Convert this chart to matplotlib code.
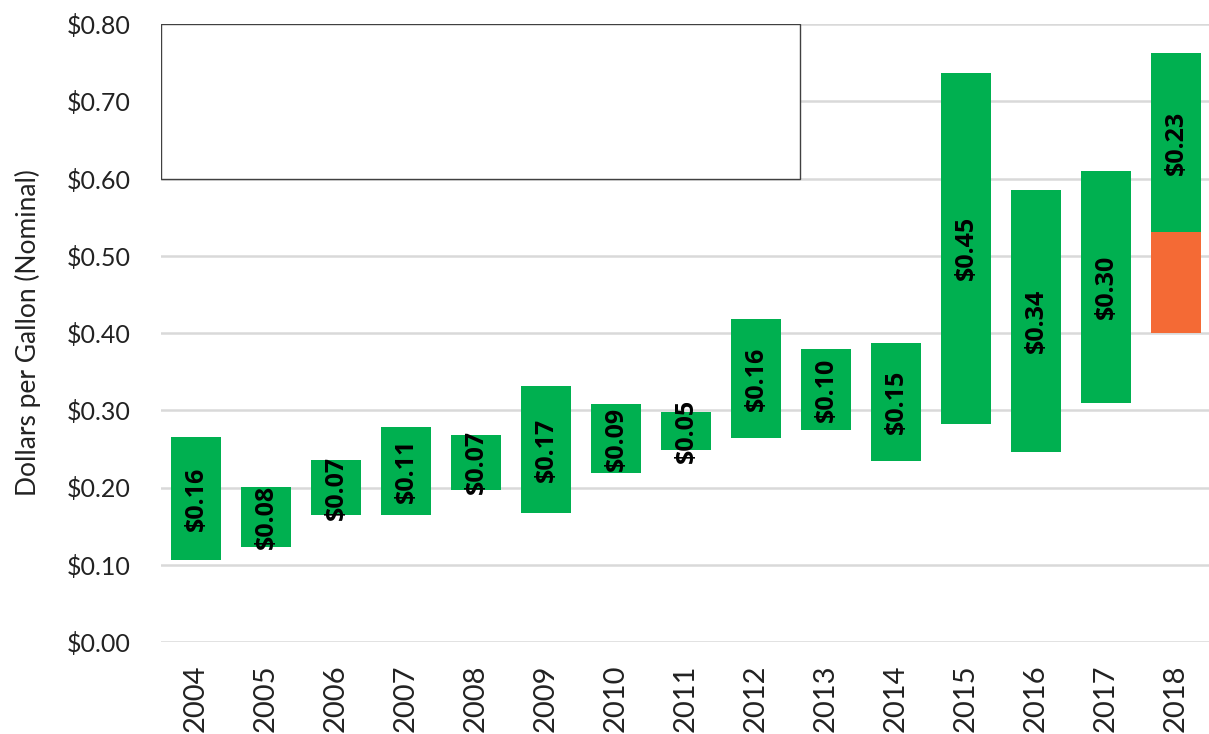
import matplotlib
matplotlib.use("Agg")
import matplotlib.pyplot as plt
from matplotlib.patches import Rectangle

# data
years = ["2004", "2005", "2006", "2007", "2008", "2009", "2010", "2011",
         "2012", "2013", "2014", "2015", "2016", "2017", "2018"]
green_low = [0.106, 0.123, 0.164, 0.164, 0.197, 0.167, 0.219, 0.249,
             0.264, 0.274, 0.234, 0.282, 0.246, 0.309, 0.531]
green_high = [0.265, 0.201, 0.236, 0.278, 0.268, 0.331, 0.308, 0.298,
              0.418, 0.379, 0.387, 0.737, 0.585, 0.610, 0.762]
labels = ["$0.16", "$0.08", "$0.07", "$0.11", "$0.07", "$0.17", "$0.09", "$0.05",
          "$0.16", "$0.10", "$0.15", "$0.45", "$0.34", "$0.30", "$0.23"]
orange_low = [0.400]
orange_high = [0.531]
orange_years = ["2018"]

yticks = [0.0, 0.1, 0.2, 0.3, 0.4, 0.5, 0.6, 0.7, 0.8]

GREEN = "#00B050"
ORANGE = "#F46A35"

plt.rcParams["font.family"] = ["Lato", "DejaVu Sans"]

fig = plt.figure(figsize=(12.09, 7.34), dpi=100)
ax = fig.add_axes([161 / 1209, 92 / 734, 1050 / 1209, 618 / 734])

x = list(range(len(years)))
heights = [h - l for l, h in zip(green_low, green_high)]
ax.bar(x, heights, bottom=green_low, width=0.72, color=GREEN, zorder=3)

ox = [years.index(y) for y in orange_years]
oh = [h - l for l, h in zip(orange_low, orange_high)]
ax.bar(ox, oh, bottom=orange_low, width=0.72, color=ORANGE, zorder=3)

for i in x:
    mid = (green_low[i] + green_high[i]) / 2
    ax.text(i, mid, labels[i], rotation=90, ha="center", va="center",
            fontsize=18, fontweight="bold", color="black", zorder=4,
            family=["Open Sans", "DejaVu Sans"])

# empty box in the top-left corner
ax.add_patch(Rectangle((-0.5, 0.6), 9.13, 0.2, facecolor="white",
                       edgecolor="#404040", linewidth=1.0, zorder=5))

ax.set_xlim(-0.5, len(years) - 0.5)
ax.set_ylim(0, 0.8)
ax.set_yticks(yticks)
ax.set_yticklabels(["${:.2f}".format(v) for v in yticks], fontsize=18)
ax.set_xticks(x)
ax.set_xticklabels(years, rotation=90, fontsize=21)
ax.tick_params(length=0, pad=22, colors="#222222")
ax.tick_params(axis="x", pad=16)
ax.grid(axis="y", color="#d9d9d9", linewidth=1.8, zorder=0)
ax.set_axisbelow(True)
for s in ax.spines.values():
    s.set_visible(False)

ax.set_ylabel("Dollars per Gallon (Nominal)", fontsize=19, color="#222222", labelpad=18)

fig.savefig("out.png", dpi=100)
